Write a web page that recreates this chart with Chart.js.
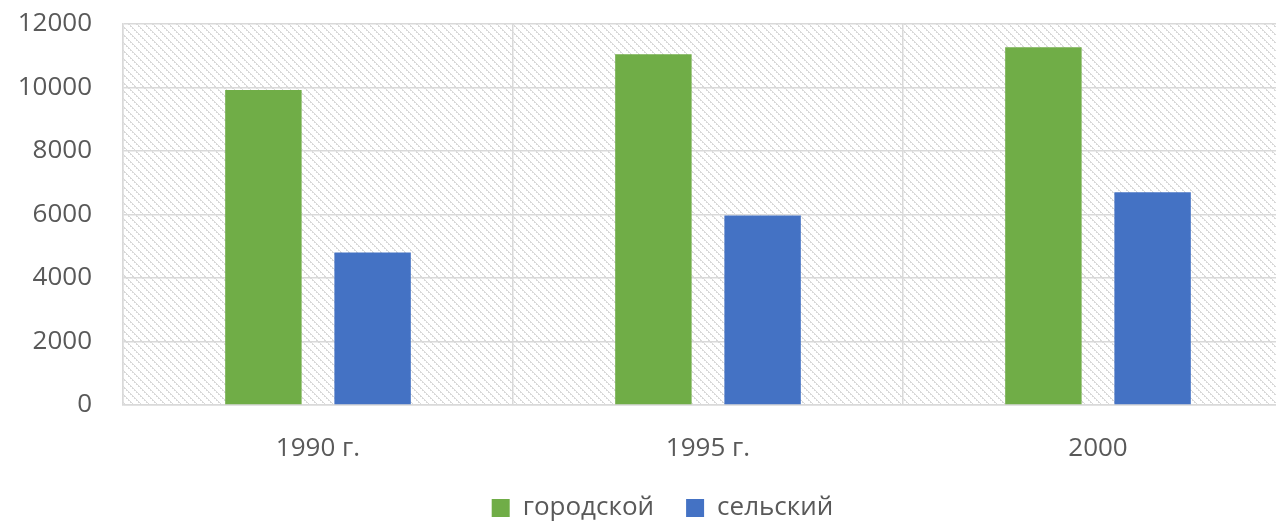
<!DOCTYPE html>
<html>
<head>
<meta charset="utf-8">
<script src="https://cdn.jsdelivr.net/npm/chart.js@4"></script>
<style>
html,body{margin:0;padding:0;background:#fff;overflow:hidden;}
#wrap{width:1276px;height:523px;overflow:hidden;}
</style>
</head>
<body>
<div id="wrap"><canvas id="c" width="1300" height="523"></canvas></div>
<script>
const categories = ['1990 г.', '1995 г.', '2000'];
const urbanValues = [9920, 11050, 11270];
const ruralValues = [4800, 5970, 6700];
const seriesNames = ['городской', 'сельский'];
const yTicks = [0, 2000, 4000, 6000, 8000, 10000, 12000];

function makePattern(ctx) {
  const t = document.createElement('canvas');
  t.width = 8; t.height = 8;
  const g = t.getContext('2d');
  g.fillStyle = '#ffffff';
  g.fillRect(0, 0, 8, 8);
  g.fillStyle = '#d9d9d9';
  for (let i = 0; i < 8; i++) {
    if (i % 2 === 0) { g.fillRect(i, i, 1, 1); g.fillRect((i + 1) % 8, i, 1, 1); }
    else { g.fillRect((i + 1) % 8, i, 1, 1); }
  }
  return ctx.createPattern(t, 'repeat');
}

const hatchPlugin = {
  id: 'hatch',
  beforeDraw(chart) {
    const {ctx, chartArea: a} = chart;
    ctx.save();
    ctx.fillStyle = makePattern(ctx);
    ctx.fillRect(a.left, a.top, a.right - a.left, a.bottom - a.top);
    ctx.restore();
  }
};

const legendShift = {
  id: 'legendShift',
  afterLayout(chart) {
    const l = chart.legend;
    if (l) { l.left += 16; l.right += 16; }
  }
};

const FONT = '"Open Sans", sans-serif';
const FS = 26;
new Chart(document.getElementById('c'), {
  type: 'bar',
  data: {
    labels: categories,
    datasets: [
      {label: seriesNames[0], data: urbanValues, backgroundColor: '#70AD47', categoryPercentage: 0.56, barPercentage: 0.70},
      {label: seriesNames[1], data: ruralValues, backgroundColor: '#4472C4', categoryPercentage: 0.56, barPercentage: 0.70}
    ]
  },
  options: {
    responsive: false,
    animation: false,
    devicePixelRatio: 1,
    layout: {padding: {left: 0, right: 7, top: 24, bottom: -8}},
    plugins: {
      tooltip: {enabled: false},
      legend: {
        position: 'bottom',
        labels: {
          boxWidth: 18, boxHeight: 18, padding: 32,
          color: '#595959',
          font: {family: FONT, size: FS}
        }
      }
    },
    scales: {
      x: {
        grid: {offset: true, color: '#d9d9d9', lineWidth: 1.5, drawTicks: false},
        border: {display: true, color: '#d9d9d9', width: 1.5},
        ticks: {color: '#595959', font: {family: FONT, size: FS}, padding: 28},
        afterFit(s) { s.height = 58; s.paddingLeft = 0; s.paddingRight = 0; }
      },
      y: {
        min: 0, max: 12000,
        afterBuildTicks(s) { s.ticks = yTicks.map(v => ({value: v})); },
        grid: {color: '#d9d9d9', lineWidth: 1.5, drawTicks: false},
        border: {display: true, color: '#d9d9d9', width: 1.5},
        ticks: {color: '#595959', font: {family: FONT, size: FS}, padding: 31, callback: v => String(v)},
        afterFit(s) { s.width = 123; s.paddingTop = 0; s.paddingBottom = 0; }
      }
    }
  },
  plugins: [hatchPlugin, legendShift]
});
</script>
</body>
</html>
